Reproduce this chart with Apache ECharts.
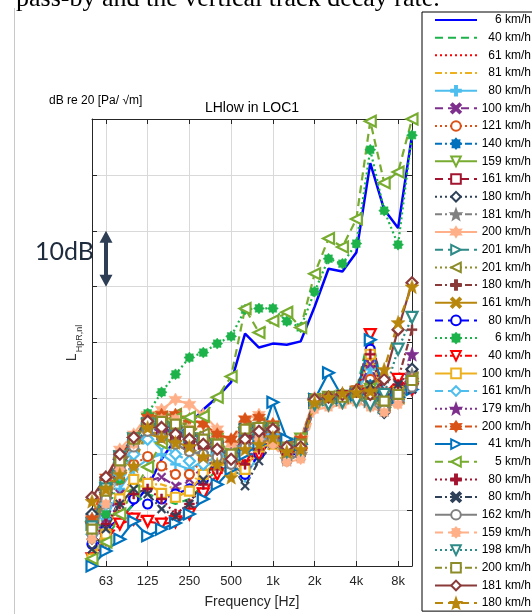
<!DOCTYPE html>
<html>
<head>
<meta charset="utf-8">
<script src="https://cdn.jsdelivr.net/npm/echarts@6/dist/echarts.min.js"></script>
<style>
html, body { margin: 0; padding: 0; background: #fff; }
#chart { width: 532px; height: 614px; }
</style>
</head>
<body>
<div id="chart"></div>
<script>
// One-third octave band centre frequencies (Hz)
const bands = ['50', '63', '80', '100', '125', '160', '200', '250', '315', '400', '500', '630',
  '800', '1k', '1.25k', '1.6k', '2k', '2.5k', '3.15k', '4k', '5k', '6.3k', '8k', '10k'];
// Bands that carry a tick label on the frequency axis
const labelledBands = ['63', '125', '250', '500', '1k', '2k', '4k', '8k'];

// Train speed of every pass-by, in legend order
const speeds = ['6 km/h', '40 km/h', '61 km/h', '81 km/h', '80 km/h', '100 km/h', '121 km/h', '140 km/h',
  '159 km/h', '161 km/h', '180 km/h', '181 km/h', '200 km/h', '201 km/h', '201 km/h', '180 km/h',
  '161 km/h', '80 km/h', '6 km/h', '40 km/h', '100 km/h', '161 km/h', '179 km/h', '200 km/h',
  '41 km/h', '5 km/h', '80 km/h', '80 km/h', '162 km/h', '159 km/h', '198 km/h', '200 km/h',
  '181 km/h', '180 km/h'];

// L_HpR,nl per band, dB
const p01 = [32.1, 36.6, 38.4, 41.1, 44.1, 49.1, 52.7, 55.4, 58.0, 60.2, 62.9, 71.6, 69.1, 69.8, 69.6, 70.2, 76.4, 83.2, 82.7, 86.1, 102.1, 93.8, 90.5, 107.1];
const p02 = [32.7, 35.2, 38.4, 41.1, 42.9, 42.0, 41.1, 42.0, 44.6, 47.3, 47.7, 50.0, 51.8, 53.0, 50.5, 50.9, 59.8, 60.2, 60.2, 61.3, 72.3, 60.2, 61.3, 62.0];
const p03 = [31.3, 33.9, 40.2, 39.3, 38.4, 38.4, 39.3, 41.1, 45.5, 48.2, 47.3, 48.2, 50.0, 52.7, 50.0, 50.9, 58.9, 59.8, 59.8, 60.7, 69.6, 59.8, 60.7, 62.5];
const p04 = [32.1, 36.6, 41.1, 43.8, 44.6, 44.6, 43.8, 44.1, 47.3, 49.1, 48.2, 48.8, 50.9, 52.3, 50.0, 50.5, 59.1, 59.8, 60.4, 61.3, 67.0, 59.8, 61.1, 62.1];
const p05 = [33.9, 38.4, 43.8, 47.3, 49.1, 50.0, 48.2, 47.3, 48.8, 49.1, 47.3, 45.9, 50.0, 52.7, 50.5, 50.9, 59.3, 59.8, 60.2, 61.3, 65.2, 59.8, 60.2, 61.3];
const p06 = [34.8, 38.4, 42.9, 45.5, 45.2, 45.9, 44.3, 45.5, 47.7, 49.1, 47.7, 48.8, 50.9, 52.7, 50.0, 50.9, 59.3, 59.8, 59.8, 60.9, 66.1, 59.8, 60.7, 61.6];
const p07 = [36.6, 41.1, 45.5, 48.2, 49.6, 47.9, 46.4, 46.4, 49.1, 50.0, 49.1, 52.7, 53.6, 53.6, 50.5, 51.3, 59.8, 60.2, 60.5, 61.3, 63.4, 59.5, 60.7, 62.0];
const p08 = [35.7, 41.1, 47.3, 51.8, 54.5, 52.7, 51.8, 50.9, 50.0, 50.9, 49.5, 52.7, 53.6, 54.5, 51.3, 51.8, 59.8, 60.4, 60.7, 61.6, 62.5, 59.5, 60.7, 63.4];
const p09 = [36.6, 42.0, 48.2, 52.7, 56.3, 56.3, 55.4, 54.5, 52.7, 52.7, 50.0, 53.6, 54.5, 54.8, 51.8, 52.7, 59.8, 60.2, 60.4, 61.1, 61.6, 58.9, 59.8, 62.5];
const p10 = [37.5, 42.9, 48.2, 52.7, 55.4, 54.5, 52.7, 51.8, 51.8, 50.9, 49.1, 52.7, 53.2, 53.2, 50.9, 51.8, 59.3, 60.2, 60.5, 61.3, 60.7, 58.9, 60.2, 64.3];
const p11 = [39.3, 43.8, 49.1, 52.7, 55.4, 54.5, 53.6, 52.7, 52.7, 51.8, 49.5, 55.4, 54.8, 54.5, 51.3, 51.8, 59.8, 60.2, 60.5, 61.3, 59.3, 57.5, 59.8, 65.2];
const p12 = [38.4, 43.8, 48.8, 52.7, 55.4, 55.0, 54.5, 53.6, 53.0, 51.8, 50.0, 54.1, 54.5, 54.5, 49.1, 50.0, 59.3, 59.8, 60.2, 60.7, 59.8, 58.0, 60.7, 64.3];
const p13 = [38.4, 45.5, 50.9, 53.6, 57.1, 58.0, 59.8, 58.9, 57.1, 54.5, 51.8, 56.3, 57.1, 55.4, 51.8, 52.7, 60.2, 59.8, 60.2, 60.7, 59.8, 58.0, 59.5, 63.4];
const p14 = [37.5, 44.6, 49.5, 52.7, 55.4, 55.4, 54.5, 53.2, 52.7, 51.3, 49.5, 54.1, 54.5, 54.5, 51.3, 51.8, 59.3, 59.8, 59.8, 60.7, 59.5, 58.4, 60.2, 63.0];
const p15 = [37.9, 44.1, 49.1, 53.0, 56.3, 56.6, 57.1, 55.4, 53.6, 51.8, 50.0, 54.8, 55.4, 54.8, 50.9, 51.8, 59.8, 60.2, 60.2, 60.7, 60.2, 58.9, 60.2, 63.6];
const p16 = [42.0, 45.5, 50.0, 52.7, 55.4, 54.1, 52.7, 51.8, 51.3, 50.9, 49.1, 52.7, 54.1, 54.5, 51.3, 51.3, 59.3, 59.8, 60.2, 61.1, 60.7, 59.8, 63.4, 72.3];
const p17 = [36.6, 42.0, 47.3, 51.3, 53.6, 53.0, 51.8, 50.5, 50.0, 49.5, 48.8, 51.3, 52.7, 53.6, 50.5, 50.9, 59.3, 59.8, 60.2, 60.9, 62.5, 60.2, 61.3, 63.4];
const p18 = [33.9, 36.6, 42.0, 42.0, 41.1, 42.0, 42.9, 43.8, 45.5, 47.3, 48.2, 46.4, 50.0, 52.7, 50.0, 50.0, 58.9, 59.8, 60.2, 61.3, 68.8, 59.8, 61.6, 62.5];
const p19 = [34.8, 39.3, 45.5, 51.8, 57.3, 61.1, 64.3, 67.3, 68.2, 69.8, 71.1, 75.9, 76.1, 76.1, 73.8, 72.7, 79.1, 85.0, 84.1, 87.7, 104.5, 93.6, 87.5, 107.1];
const p20 = [31.3, 34.8, 37.5, 38.4, 38.0, 37.5, 37.9, 39.3, 42.9, 46.4, 47.3, 49.1, 50.0, 52.7, 49.5, 50.0, 58.9, 59.5, 59.8, 60.7, 71.4, 60.7, 63.4, 61.6];
const p21 = [31.3, 35.7, 42.0, 45.5, 44.8, 43.0, 42.3, 43.4, 46.4, 48.8, 47.3, 47.3, 51.3, 51.8, 50.0, 50.9, 59.3, 59.8, 60.2, 61.3, 67.9, 60.2, 61.3, 62.5];
const p22 = [35.7, 41.1, 46.4, 50.0, 52.7, 51.8, 50.0, 48.8, 48.2, 50.0, 49.1, 51.3, 52.7, 53.6, 51.3, 51.8, 59.3, 60.2, 60.2, 61.1, 60.7, 58.9, 59.5, 62.5];
const p23 = [37.5, 42.9, 48.8, 52.7, 54.8, 54.1, 54.5, 53.2, 52.7, 51.8, 50.0, 53.6, 54.5, 54.1, 50.9, 51.6, 59.8, 60.2, 60.4, 61.3, 59.8, 59.8, 60.7, 67.9];
const p24 = [38.4, 45.9, 50.0, 52.7, 56.6, 57.1, 57.1, 56.3, 55.4, 53.6, 52.7, 56.3, 56.6, 55.4, 51.8, 52.7, 59.8, 60.2, 60.7, 61.6, 61.3, 58.4, 59.8, 63.0];
const p25 = [30.0, 32.7, 34.8, 38.0, 35.4, 36.6, 37.7, 39.3, 42.0, 44.6, 47.3, 50.0, 51.8, 59.3, 52.7, 51.8, 59.8, 64.6, 60.2, 60.7, 70.5, 60.7, 60.2, 61.6];
const p26 = [31.3, 34.3, 39.3, 43.4, 47.7, 52.0, 56.4, 56.6, 56.8, 60.2, 63.9, 76.1, 71.8, 73.9, 75.4, 72.7, 82.3, 88.6, 87.1, 92.1, 109.6, 98.6, 100.5, 110.0];
const p27 = [34.8, 37.5, 41.1, 42.9, 43.8, 42.0, 39.3, 41.1, 44.6, 47.3, 48.2, 48.2, 50.9, 52.7, 50.0, 50.9, 58.9, 59.8, 60.2, 61.3, 67.9, 60.7, 62.5, 63.4];
const p28 = [33.0, 36.6, 41.1, 43.8, 42.9, 40.2, 38.9, 41.1, 45.5, 49.1, 48.2, 44.3, 48.8, 51.8, 50.0, 51.3, 58.9, 59.8, 60.2, 61.1, 62.5, 59.8, 62.5, 61.6];
const p29 = [35.7, 42.0, 47.3, 51.3, 54.1, 53.0, 51.8, 50.5, 50.0, 49.5, 48.2, 51.3, 52.7, 52.7, 48.8, 50.0, 58.9, 59.3, 59.8, 60.2, 58.9, 58.0, 59.8, 62.0];
const p30 = [34.8, 41.1, 47.3, 51.8, 55.4, 56.3, 56.3, 54.5, 52.7, 51.8, 50.0, 54.5, 52.7, 51.8, 48.6, 49.1, 58.0, 58.4, 58.9, 59.3, 58.4, 57.5, 58.9, 63.4];
const p31 = [37.0, 43.8, 49.5, 52.7, 55.4, 54.8, 54.1, 52.7, 52.3, 51.3, 49.5, 53.6, 54.1, 54.1, 50.5, 50.9, 58.9, 58.9, 59.3, 59.5, 58.9, 60.7, 68.8, 74.5];
const p32 = [36.6, 43.4, 48.8, 52.7, 55.4, 55.9, 55.4, 54.1, 52.7, 51.8, 50.0, 54.5, 54.8, 54.8, 51.3, 51.8, 59.8, 60.2, 60.2, 61.1, 60.7, 59.5, 60.7, 63.2];
const p33 = [42.3, 45.9, 50.0, 53.0, 55.9, 54.8, 53.6, 52.7, 51.8, 50.9, 49.1, 52.7, 54.1, 54.5, 51.3, 51.3, 59.8, 60.2, 60.7, 61.3, 60.7, 63.4, 72.3, 80.7];
const p34 = [41.6, 43.8, 46.4, 47.9, 54.8, 53.0, 52.1, 51.4, 49.6, 48.2, 45.9, 50.9, 51.8, 53.0, 50.5, 50.9, 59.3, 60.2, 60.9, 61.1, 61.3, 65.2, 73.6, 80.0];

const levels = [p01, p02, p03, p04, p05, p06, p07, p08, p09, p10, p11, p12, p13, p14, p15, p16, p17,
  p18, p19, p20, p21, p22, p23, p24, p25, p26, p27, p28, p29, p30, p31, p32, p33, p34];

// ---- styling ----
const palette = ['#0000ff', '#1db34a', '#ff0000', '#edb120', '#4dbeee', '#7e2f8e', '#d95319', '#0072bd',
  '#77ac30', '#a2142f', '#2f4159', '#808080', '#ffb088', '#2e8b87', '#8c8c2a', '#8b3a3a', '#b8860b'];
const dashStyles = ['solid', [8, 5], [2, 3], [7, 3, 2, 3]];
const markerCycle = ['plus', 'x', 'o', 'ast', 'v', 's', 'd', 'p', 'h', 'right', 'left'];

function starPath(points, rOut, rIn) {
  let d = '';
  for (let k = 0; k < points * 2; k++) {
    const r = k % 2 === 0 ? rOut : rIn;
    const a = -Math.PI / 2 + k * Math.PI / points;
    d += (k === 0 ? 'M' : 'L') + (10 + r * Math.cos(a)).toFixed(2) + ',' + (10 + r * Math.sin(a)).toFixed(2);
  }
  return 'path://' + d + 'Z';
}

const markers = {
  plus: { symbol: 'path://M4,0H6V4H10V6H6V10H4V6H0V4H4Z', size: 10, hollow: false },
  x: { symbol: 'path://M1.4,0L5,3.6L8.6,0L10,1.4L6.4,5L10,8.6L8.6,10L5,6.4L1.4,10L0,8.6L3.6,5L0,1.4Z', size: 9, hollow: false },
  o: { symbol: 'circle', size: 9, hollow: true },
  ast: { symbol: starPath(8, 10, 7.2), size: 11, hollow: false },
  v: { symbol: 'path://M0,0L10,0L5,9Z', size: 11, hollow: true },
  s: { symbol: 'rect', size: 9, hollow: true },
  d: { symbol: 'diamond', size: 11, hollow: true },
  p: { symbol: starPath(5, 10, 4.2), size: 14, hollow: false },
  h: { symbol: starPath(6, 10, 5.5), size: 13, hollow: false },
  right: { symbol: 'path://M0,0L9,5L0,10Z', size: 11, hollow: true },
  left: { symbol: 'path://M9,0L9,10L0,5Z', size: 11, hollow: true }
};

// Unique series keys (several runs share the same speed label)
const keys = speeds.map((s, i) => s + '\u200b'.repeat(i + 1));

const series = levels.map((vals, i) => {
  const color = palette[i % palette.length];
  const mk = i < 4 ? null : markers[markerCycle[(i - 4) % markerCycle.length]];
  const s = {
    type: 'line',
    name: keys[i],
    data: vals,
    xAxisIndex: 0,
    yAxisIndex: 0,
    animation: false,
    emphasis: { disabled: true },
    lineStyle: { color: color, width: i === 0 ? 2.5 : 2.2, type: dashStyles[i % 4] }
  };
  if (mk) {
    s.symbol = mk.symbol;
    s.symbolSize = mk.size;
    s.showSymbol = true;
    s.showAllSymbol = true;
    s.itemStyle = mk.hollow
      ? { color: '#ffffff', borderColor: color, borderWidth: 2.2 }
      : { color: color, borderColor: color, borderWidth: 0.5 };
  } else {
    s.symbol = 'circle';
    s.showSymbol = false;
    s.itemStyle = { color: 'rgba(0,0,0,0)', borderWidth: 0 };
  }
  return s;
});

const axisColor = '#262626';
const gridColor = '#d9d9d9';
const onLabelled = (idx, val) => labelledBands.indexOf(val) !== -1;
const sansFont = '"Liberation Sans", Arial, sans-serif';

const chart = echarts.init(document.getElementById('chart'), null, { renderer: 'canvas' });
chart.setOption({
  animation: false,
  backgroundColor: '#ffffff',
  grid: { left: 92, top: 119, width: 320, height: 448, containLabel: false },
  xAxis: [{
    type: 'category',
    data: bands,
    boundaryGap: false,
    position: 'bottom',
    axisLine: { lineStyle: { color: axisColor, width: 1 } },
    axisTick: { inside: true, length: 5, interval: onLabelled, lineStyle: { color: axisColor } },
    axisLabel: { interval: onLabelled, margin: 9, fontSize: 13, color: axisColor, fontFamily: sansFont },
    splitLine: { show: true, interval: onLabelled, lineStyle: { color: gridColor, width: 1 } },
    name: 'Frequency [Hz]',
    nameLocation: 'middle',
    nameGap: 29,
    nameTextStyle: { fontSize: 14, color: axisColor, fontFamily: sansFont }
  }, {
    type: 'category',
    data: bands,
    boundaryGap: false,
    position: 'top',
    axisLine: { lineStyle: { color: axisColor, width: 1 } },
    axisTick: { inside: true, length: 5, interval: onLabelled, lineStyle: { color: axisColor } },
    axisLabel: { show: false },
    splitLine: { show: false }
  }],
  yAxis: [{
    type: 'value',
    min: 30, max: 110, interval: 10,
    position: 'left',
    axisLine: { show: true, lineStyle: { color: axisColor, width: 1 } },
    axisTick: { show: true, inside: true, length: 5, lineStyle: { color: axisColor } },
    axisLabel: { show: false },
    splitLine: { show: true, lineStyle: { color: gridColor, width: 1 } }
  }, {
    type: 'value',
    min: 30, max: 110, interval: 10,
    position: 'right',
    axisLine: { show: true, lineStyle: { color: axisColor, width: 1 } },
    axisTick: { show: true, inside: true, length: 5, lineStyle: { color: axisColor } },
    axisLabel: { show: false },
    splitLine: { show: false }
  }],
  legend: {
    orient: 'vertical',
    left: 422,
    top: 12,
    padding: [2, 4, 2, 12],
    itemWidth: 42,
    itemHeight: 12,
    itemGap: 5.67,
    borderColor: '#000',
    borderWidth: 1,
    backgroundColor: '#fff',
    selectedMode: false,
    data: keys,
    formatter: n => '{n|' + n.replace(/\u200b/g, '') + '}',
    textStyle: {
      rich: { n: { width: 49, align: 'right', fontSize: 12, lineHeight: 12, color: '#000', fontFamily: sansFont } }
    }
  },
  series: series
});

// Annotations placed through the value scale
const y90 = chart.convertToPixel({ yAxisIndex: 0 }, 90);
const y80 = chart.convertToPixel({ yAxisIndex: 0 }, 80);
const ax = 106, hw = 6.5, sw = 2, hh = 12;

chart.setOption({
  graphic: [
    { type: 'line', shape: { x1: 14.5, y1: 8, x2: 14.5, y2: 614 }, style: { stroke: '#c8c8c8', lineWidth: 1 }, silent: true },
    { type: 'text', x: 16, y: -1, style: { text: 'pass-by and the vertical track decay rate.', fontSize: 26, fontFamily: '"Liberation Serif", "Times New Roman", serif', fill: '#000', verticalAlign: 'middle' }, silent: true },
    { type: 'text', x: 49, y: 101, style: { text: 'dB re 20 [Pa/ \u221Am]', fontSize: 12, fontFamily: sansFont, fill: '#000', verticalAlign: 'middle' }, silent: true },
    { type: 'text', x: 252, y: 108, style: { text: 'LHlow in LOC1', fontSize: 14, fontFamily: sansFont, fill: '#000', align: 'center', verticalAlign: 'middle' }, silent: true },
    { type: 'text', x: 72, y: 343, rotation: Math.PI / 2,
      style: {
        text: '{a|L}{b|HpR,nl}', align: 'center', verticalAlign: 'middle', fill: '#333',
        rich: {
          a: { fontSize: 14, lineHeight: 30, fontFamily: sansFont, fill: '#333', verticalAlign: 'middle' },
          b: { fontSize: 9, lineHeight: 30, fontFamily: sansFont, fill: '#333', verticalAlign: 'bottom', padding: [0, 0, 3, 1] }
        }
      }, silent: true },
    { type: 'text', x: 35, y: 252, style: { text: '10dB', fontSize: 25, fontFamily: 'Lato, "DejaVu Sans", sans-serif', fill: '#1e2b3c', verticalAlign: 'middle' }, silent: true },
    { type: 'polygon', silent: true, z: 100,
      shape: { points: [
        [ax, y90], [ax + hw, y90 + hh], [ax + sw, y90 + hh], [ax + sw, y80 - hh], [ax + hw, y80 - hh],
        [ax, y80], [ax - hw, y80 - hh], [ax - sw, y80 - hh], [ax - sw, y90 + hh], [ax - hw, y90 + hh]
      ] },
      style: { fill: '#2e3f55' } }
  ]
});
</script>
</body>
</html>
